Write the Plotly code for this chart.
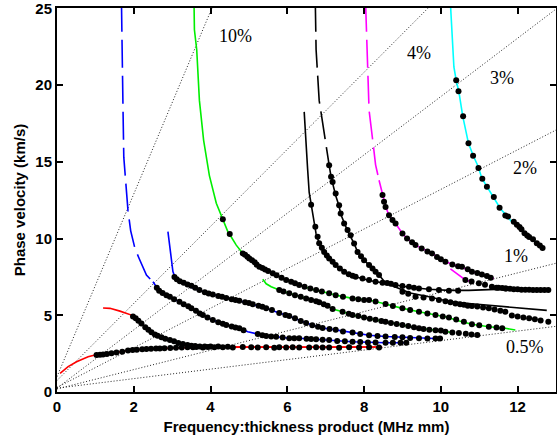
import plotly.graph_objects as go

# ---------------- reference (dotted) lines ----------------
REF_LABELS = ["10%", "4%", "3%", "2%", "1%", "0.5%"]
REF_SLOPES = [5.95, 2.51, 1.90, 1.29, 0.63, 0.31]
REF_INTERCEPTS = [1.0, 0.75, 0.25, 0.3, 0.2, 0.25]
REF_LABEL_X = [4.64, 9.43, 11.59, 12.20, 11.96, 12.18]
REF_LABEL_Y = [23.18, 22.1, 20.47, 14.6, 8.85, 2.95]

X_TICKS = [0, 2, 4, 6, 8, 10, 12]
Y_TICKS = [0, 5, 10, 15, 20, 25]

# ---------------- theoretical curves (x, y) ----------------
A0_LINE = [(0.08, 1.21), (0.29, 1.65), (0.51, 1.97), (0.64, 2.13), (0.81, 2.3), (0.99, 2.41),
           (1.29, 2.47), (1.55, 2.58), (1.9, 2.72), (2.33, 2.8), (2.68, 2.84), (3.11, 2.88),
           (3.54, 2.91), (5.0, 2.92), (8.47, 2.93)]
S0_LINE = [(1.2, 5.47), (1.38, 5.45), (1.64, 5.27), (1.94, 5.01), (2.05, 4.8), (2.2, 4.47),
           (2.42, 3.93), (2.68, 3.6), (2.94, 3.39), (3.28, 3.13), (3.58, 2.99), (4.5, 2.94),
           (6.0, 2.92), (8.47, 2.93)]
A1_DASH = [(1.68, 25.3), (1.69, 22.5), (1.71, 20.5), (1.72, 18.4), (1.74, 15.3), (1.79, 13.4),
           (1.85, 11.8), (1.92, 10.5), (2.03, 9.36), (2.14, 8.7), (2.33, 7.62), (2.5, 7.18)]
A1_LINE = [(2.5, 7.18), (2.63, 6.7), (2.94, 6.2), (3.19, 5.88), (3.5, 5.45), (3.8, 5.01),
           (4.06, 4.69), (4.41, 4.36), (4.75, 4.15), (4.97, 3.93), (5.23, 3.78), (5.45, 3.65),
           (5.71, 3.6), (6.05, 3.5), (6.31, 3.5), (6.75, 3.43), (7.09, 3.39), (7.7, 3.27),
           (8.56, 3.21), (9.17, 3.21)]
S1_LINE = [(2.89, 10.45), (2.94, 9.3), (2.98, 8.5), (3.02, 7.85), (3.08, 7.45), (3.24, 7.15),
           (3.45, 6.88), (3.71, 6.62), (4.06, 6.35), (4.41, 6.12), (4.75, 5.95), (5.1, 5.72),
           (5.45, 5.45), (5.79, 5.15), (6.05, 4.95), (6.49, 4.5), (6.92, 4.17), (7.26, 4.05),
           (7.7, 3.87), (8.13, 3.7), (8.56, 3.62), (9.0, 3.56), (9.43, 3.5), (10.0, 3.47)]
G1_LINE = [(3.57, 25.3), (3.58, 23.6), (3.64, 22.3), (3.71, 19.0), (3.82, 16.4), (3.97, 14.1),
           (4.15, 12.3), (4.32, 11.3), (4.45, 10.45), (4.54, 10.1), (4.67, 9.57), (4.84, 9.03),
           (5.01, 8.7), (5.27, 8.16), (5.62, 7.73), (5.97, 7.29), (6.31, 6.97), (6.75, 6.62),
           (7.09, 6.43), (7.26, 6.31), (7.7, 6.1), (8.13, 5.99), (8.56, 5.73), (9.0, 5.45),
           (9.43, 5.23), (9.86, 5.01), (10.21, 4.86), (10.38, 4.69), (10.81, 4.41),
           (11.25, 4.25), (11.68, 4.15), (11.94, 4.04)]
G2_LINE = [(5.36, 7.34), (5.45, 7.05), (5.58, 6.86), (5.79, 6.64), (6.05, 6.43), (6.49, 6.1),
           (6.83, 5.85), (7.05, 5.62), (7.18, 5.4), (7.44, 5.23), (7.7, 5.01), (8.13, 4.78),
           (8.56, 4.58), (9.0, 4.37), (9.43, 4.15), (9.86, 4.03), (10.3, 3.88)]
K1_LINE = [(6.44, 18.25), (6.49, 16.5), (6.53, 14.5), (6.57, 13.0), (6.62, 12.2), (6.68, 11.4),
           (6.75, 10.3), (6.83, 9.7), (6.96, 9.13), (7.09, 8.7), (7.26, 8.27), (7.48, 7.83),
           (7.78, 7.51), (8.13, 7.27), (8.48, 7.12), (8.82, 6.97), (9.17, 6.82), (9.69, 6.69),
           (10.21, 6.62), (10.73, 6.62), (11.59, 6.7), (12.2, 6.67), (12.8, 6.64)]
K2_DASH = [(6.73, 25.3), (6.75, 22.3), (6.83, 19.0), (6.96, 16.84), (7.05, 15.32), (7.09, 14.78)]
K2_LINE = [(7.09, 14.78), (7.14, 14.02), (7.26, 12.8), (7.35, 12.1), (7.39, 11.6), (7.48, 10.98),
           (7.57, 10.5), (7.65, 10.1), (7.74, 9.68), (7.83, 9.13), (8.0, 8.59), (8.13, 8.27),
           (8.3, 7.83), (8.39, 7.62), (8.56, 7.1), (8.91, 6.75), (9.2, 6.45), (9.69, 6.21),
           (10.21, 5.9), (10.8, 5.75), (11.5, 5.58), (12.1, 5.45), (12.76, 5.32)]
M_DASH = [(8.04, 25.3), (8.07, 23.35), (8.09, 21.18), (8.13, 18.36), (8.22, 16.5), (8.3, 14.8),
          (8.39, 13.8)]
M_LINE = [(8.39, 13.8), (8.48, 12.94), (8.56, 12.1), (8.65, 11.5), (8.82, 10.98), (9.0, 10.33),
          (9.12, 10.0), (9.34, 9.57), (9.77, 9.03), (10.12, 8.48), (10.55, 8.12), (10.81, 7.83),
          (11.07, 7.66), (11.38, 7.4)]
M2_LINE = [(10.25, 8.02), (10.38, 7.8), (10.47, 7.62), (10.64, 7.3), (10.85, 7.15)]
C_LINE = [(10.25, 25.3), (10.29, 23.35), (10.34, 21.18), (10.4, 20.31), (10.47, 19.55),
          (10.57, 17.97), (10.72, 16.2), (10.85, 15.36), (10.97, 14.71), (11.07, 13.91),
          (11.2, 13.37), (11.38, 12.71), (11.55, 11.96), (11.72, 11.46), (11.85, 11.09),
          (11.98, 10.87), (12.11, 10.55), (12.29, 10.11), (12.42, 9.9), (12.55, 9.57),
          (12.65, 9.35)]

# ---------------- measured points (x, y) ----------------
A0_DOTS = [(1.03, 2.41), (1.12, 2.43), (1.2, 2.45), (1.3, 2.48), (1.42, 2.52), (1.55, 2.57),
           (1.7, 2.63), (1.85, 2.7), (1.97, 2.74), (2.08, 2.76), (2.22, 2.78), (2.33, 2.8),
           (2.45, 2.82), (2.58, 2.83), (2.68, 2.84), (2.8, 2.85), (2.95, 2.87), (3.1, 2.88),
           (3.25, 2.9), (3.4, 2.91), (3.54, 2.92), (3.63, 2.93), (3.8, 2.9), (3.93, 2.93),
           (4.1, 2.92), (4.32, 2.92), (4.58, 2.9), (4.84, 2.93), (5.06, 2.92), (5.23, 2.9),
           (5.45, 2.91), (5.66, 2.88), (5.79, 2.92), (5.97, 2.9), (6.14, 2.91), (6.31, 2.9),
           (6.57, 2.9), (6.75, 2.92), (6.92, 2.9), (7.09, 2.9), (7.35, 2.88), (7.61, 2.91),
           (7.87, 2.9), (8.13, 2.92), (8.39, 2.9)]
S0_DOTS = [(1.98, 4.92), (2.05, 4.8), (2.12, 4.65), (2.2, 4.47), (2.3, 4.22), (2.38, 4.05),
           (2.46, 3.9), (2.55, 3.75), (2.62, 3.66), (2.72, 3.56), (2.82, 3.47), (2.94, 3.39),
           (3.05, 3.3), (3.16, 3.2), (3.28, 3.13), (3.4, 3.06), (3.5, 3.02), (3.6, 2.99),
           (3.72, 2.97), (3.85, 2.97), (4.0, 2.96), (4.2, 2.96), (4.45, 2.95)]
A1_DOTS = [(2.6, 6.8), (2.66, 6.6), (2.75, 6.45), (2.85, 6.3), (2.94, 6.2), (3.05, 6.05),
           (3.19, 5.88), (3.3, 5.72), (3.42, 5.58), (3.5, 5.45), (3.62, 5.3), (3.72, 5.12),
           (3.8, 5.01), (3.92, 4.85), (4.06, 4.69), (4.2, 4.55), (4.32, 4.45), (4.41, 4.36),
           (4.55, 4.27), (4.65, 4.2), (4.75, 4.15), (4.86, 4.02), (5.23, 3.78), (5.35, 3.7),
           (5.45, 3.65), (5.58, 3.62), (5.71, 3.6), (5.88, 3.55), (6.05, 3.5), (6.18, 3.5),
           (6.31, 3.5), (6.5, 3.47), (6.62, 3.45), (6.75, 3.43), (6.92, 3.4), (7.09, 3.39),
           (7.3, 3.33), (7.5, 3.3), (7.7, 3.27), (7.9, 3.25), (8.1, 3.23), (8.3, 3.22),
           (8.56, 3.21), (8.75, 3.21), (8.95, 3.21), (9.1, 3.21)]
S1_DOTS = [(3.06, 7.5), (3.12, 7.35), (3.2, 7.22), (3.3, 7.12), (3.4, 7.0), (3.5, 6.92),
           (3.6, 6.8), (3.71, 6.65), (3.85, 6.5), (3.95, 6.42), (4.06, 6.35), (4.2, 6.25),
           (4.3, 6.2), (4.41, 6.12), (4.55, 6.05), (4.65, 6.0), (4.75, 5.95), (4.9, 5.85),
           (5.0, 5.8), (5.1, 5.72), (5.25, 5.62), (5.35, 5.55), (5.45, 5.45), (5.6, 5.35),
           (5.79, 5.15), (5.95, 5.02), (6.05, 4.95), (6.2, 4.8), (6.35, 4.62), (6.49, 4.5),
           (6.65, 4.35), (6.8, 4.25), (6.92, 4.17), (7.1, 4.1), (7.26, 4.05), (7.45, 3.95),
           (7.7, 3.87), (7.9, 3.78), (8.13, 3.7), (8.35, 3.65), (8.56, 3.62), (8.8, 3.58),
           (9.0, 3.56), (9.2, 3.52), (9.43, 3.5), (9.65, 3.49), (9.86, 3.49), (9.98, 3.48)]
G1_DOTS = [(4.32, 11.25), (4.5, 10.3), (4.84, 9.03), (4.9, 8.95), (4.96, 8.82), (5.01, 8.7),
           (5.08, 8.58), (5.15, 8.45), (5.2, 8.3), (5.27, 8.16), (5.35, 8.08), (5.42, 7.98),
           (5.5, 7.88), (5.62, 7.73), (5.72, 7.6), (5.85, 7.45), (5.97, 7.29), (6.1, 7.18),
           (6.2, 7.08), (6.31, 6.97), (6.45, 6.86), (6.6, 6.75), (6.75, 6.64), (6.9, 6.55),
           (7.09, 6.43), (7.26, 6.31), (7.45, 6.2), (7.7, 6.1), (7.85, 6.05), (8.0, 6.0),
           (8.13, 5.99), (8.3, 5.9), (8.56, 5.73), (8.75, 5.6), (9.0, 5.45), (9.2, 5.35),
           (9.43, 5.23), (9.65, 5.12), (9.86, 5.01), (10.05, 4.92), (10.21, 4.86), (10.4, 4.72),
           (10.6, 4.58), (10.81, 4.41), (11.0, 4.35), (11.25, 4.25), (11.45, 4.2), (11.6, 4.15)]
G2_DOTS = [(5.79, 6.64), (5.9, 6.55), (6.05, 6.43), (6.2, 6.3), (6.35, 6.2), (6.49, 6.1),
           (6.62, 6.0), (6.75, 5.92), (6.83, 5.85), (6.95, 5.72), (7.05, 5.62), (7.18, 5.4),
           (7.44, 5.23), (7.6, 5.1), (7.7, 5.01), (7.85, 4.95), (8.0, 4.85), (8.15, 4.78),
           (8.3, 4.7), (8.45, 4.63), (8.56, 4.58), (8.7, 4.5), (8.85, 4.43), (9.0, 4.37),
           (9.15, 4.3), (9.3, 4.22), (9.43, 4.15), (9.55, 4.1), (9.7, 4.06), (9.86, 4.03),
           (10.0, 4.0), (10.12, 3.93), (10.3, 3.88), (10.47, 3.84), (10.65, 3.8), (10.8, 3.75),
           (10.95, 3.71)]
K1_DOTS = [(6.62, 12.2), (6.73, 10.76), (6.79, 10.11), (6.83, 9.7), (6.9, 9.4), (6.96, 9.13),
           (7.03, 8.9), (7.09, 8.7), (7.18, 8.48), (7.26, 8.27), (7.37, 8.05), (7.48, 7.83),
           (7.6, 7.68), (7.7, 7.58), (7.78, 7.51), (7.96, 7.4), (8.13, 7.29), (8.3, 7.18),
           (8.48, 7.12), (8.6, 7.1), (8.7, 7.05), (8.82, 6.97), (9.0, 6.9), (9.17, 6.86),
           (9.3, 6.8), (9.43, 6.75), (9.69, 6.69), (9.95, 6.64), (10.21, 6.6), (10.45, 6.6),
           (11.45, 6.8), (11.6, 6.78), (11.7, 6.75), (11.8, 6.72), (11.9, 6.7), (12.0, 6.69),
           (12.1, 6.67), (12.2, 6.67), (12.3, 6.66), (12.4, 6.65), (12.5, 6.65), (12.6, 6.64),
           (12.7, 6.64), (12.8, 6.64)]
K2_DOTS = [(7.09, 14.78), (7.14, 14.02), (7.18, 13.69), (7.26, 12.94), (7.35, 12.17),
           (7.39, 11.63), (7.48, 10.98), (7.57, 10.55), (7.65, 10.22), (7.74, 9.68), (7.83, 9.13),
           (7.92, 8.85), (8.0, 8.59), (8.13, 8.27), (8.22, 8.05), (8.3, 7.83), (8.39, 7.62),
           (9.0, 6.53), (9.15, 6.4), (9.34, 6.21), (9.55, 6.15), (9.77, 6.1), (9.95, 5.99),
           (10.12, 5.92), (10.25, 5.85), (10.38, 5.77), (10.5, 5.72), (10.6, 5.68), (10.7, 5.62),
           (10.81, 5.6), (10.95, 5.57), (11.1, 5.5), (11.25, 5.45), (11.4, 5.38), (11.55, 5.3),
           (11.68, 5.23), (11.85, 4.98), (12.0, 4.92), (12.15, 4.86), (12.3, 4.8), (12.45, 4.74),
           (12.6, 4.66), (12.8, 4.58)]
M_DOTS = [(8.48, 12.83), (8.52, 12.4), (8.56, 12.06), (8.65, 11.52), (8.74, 11.2), (8.82, 10.98),
          (9.0, 10.33), (9.12, 10.0), (9.25, 9.75), (9.34, 9.57), (9.5, 9.35), (9.65, 9.15),
          (9.77, 9.03), (9.9, 8.8), (10.0, 8.65), (10.12, 8.48), (10.3, 8.3), (10.45, 8.2),
          (10.55, 8.16), (10.7, 8.0), (10.81, 7.83), (10.95, 7.75), (11.07, 7.65), (11.2, 7.55),
          (11.3, 7.45)]
M2_DOTS = [(10.64, 7.29), (10.8, 7.2), (10.99, 7.08), (11.15, 6.98), (11.33, 6.86), (11.5, 6.8),
           (11.68, 6.75)]
C_DOTS = [(10.4, 20.31), (10.46, 19.6), (10.58, 17.97), (10.72, 16.2), (10.84, 15.4),
          (10.98, 14.6), (11.08, 13.9), (11.2, 13.37), (11.38, 12.71), (11.53, 12.0),
          (11.68, 11.5), (11.75, 11.43), (11.9, 11.1), (11.98, 10.9), (12.05, 10.75),
          (12.1, 10.6), (12.18, 10.35), (12.25, 10.2), (12.3, 10.1), (12.4, 9.95), (12.5, 9.7),
          (12.58, 9.55), (12.65, 9.38)]

X_MAX = 13
Y_MAX = 25

fig = go.Figure()

# dotted reference lines (from slope and intercept), clipped by the axes
for m, b in zip(REF_SLOPES, REF_INTERCEPTS):
    x_end = min(X_MAX, (Y_MAX + 0.3 - b) / m)
    fig.add_trace(go.Scatter(x=[0, x_end], y=[b, b + m * x_end],
                             mode="lines", line=dict(color="#222222", width=1, dash="1px,2px"),
                             hoverinfo="skip", showlegend=False))


def add_line(pts, color, dash="solid", width=1.6):
    xs, ys = zip(*pts)
    fig.add_trace(go.Scatter(x=list(xs), y=list(ys), mode="lines",
                             line=dict(color=color, width=width, dash=dash),
                             showlegend=False))


DASH = "28px,8px"
add_line(A0_LINE, "#ff0000")
add_line(S0_LINE, "#ff0000")
add_line(A1_DASH, "#0000ff", DASH)
add_line(A1_LINE, "#0000ff")
add_line(S1_LINE, "#0000ff")
add_line(G1_LINE, "#00ee00")
add_line(G2_LINE, "#00ee00")
add_line(K1_LINE, "#000000")
add_line(K2_DASH, "#000000", DASH)
add_line(K2_LINE, "#000000")
add_line(M_DASH, "#ff00ff", DASH)
add_line(M_LINE, "#ff00ff")
add_line(M2_LINE, "#ff00ff")
add_line(C_LINE, "#00ffff")

dx, dy = [], []
for grp in [A0_DOTS, S0_DOTS, A1_DOTS, S1_DOTS, G1_DOTS, G2_DOTS, K1_DOTS, K2_DOTS,
            M_DOTS, M2_DOTS, C_DOTS]:
    for px, py in grp:
        dx.append(px)
        dy.append(py)
fig.add_trace(go.Scatter(x=dx, y=dy, mode="markers",
                         marker=dict(color="black", size=6, symbol="circle"),
                         showlegend=False))

for lab, lx, ly in zip(REF_LABELS, REF_LABEL_X, REF_LABEL_Y):
    fig.add_annotation(x=lx, y=ly, text=lab, showarrow=False,
                       font=dict(family="Liberation Serif", size=18, color="black"))

axis_font = dict(family="Liberation Sans", size=15, color="black", weight="bold")
title_font = dict(family="Liberation Sans", size=15, color="black", weight="bold")

fig.update_layout(
    width=557, height=443,
    margin=dict(l=57, r=1, t=8, b=51, autoexpand=False),
    plot_bgcolor="white", paper_bgcolor="white",
    xaxis=dict(range=[0, X_MAX], tickvals=X_TICKS, ticks="inside", ticklen=6, tickwidth=1.5,
               tickcolor="black", showline=True, linewidth=2, linecolor="black",
               mirror="ticks", showgrid=False, zeroline=False, tickfont=axis_font,
               title=dict(text="Frequency:thickness product (MHz mm)", font=title_font,
                          standoff=7)),
    yaxis=dict(range=[0, Y_MAX + 0.02], tickvals=Y_TICKS, ticks="inside", ticklen=6,
               tickwidth=1.5, tickcolor="black", showline=True, linewidth=2,
               linecolor="black", mirror="ticks", showgrid=False, zeroline=False,
               tickfont=axis_font, ticklabeloverflow="allow",
               title=dict(text="Phase velocity (km/s)", font=title_font, standoff=6)),
)

fig.write_html("out.html")
